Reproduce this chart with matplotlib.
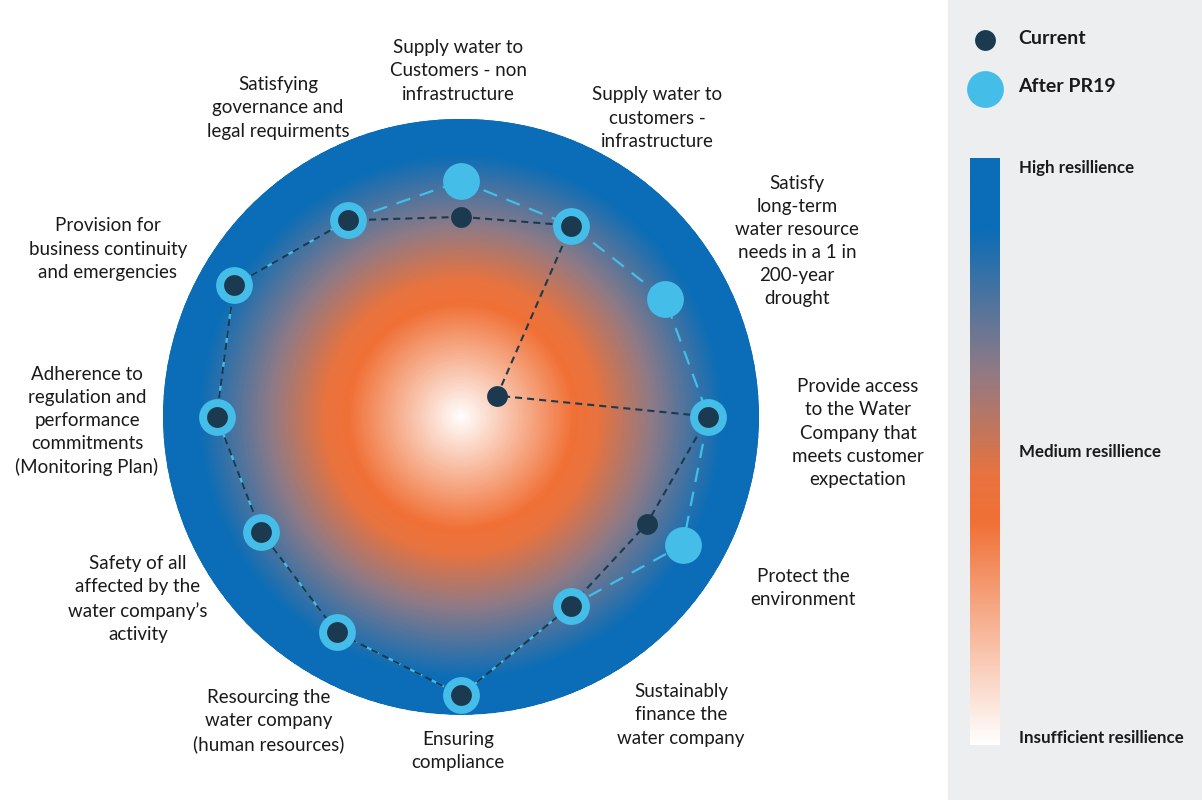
import numpy as np
import matplotlib
matplotlib.use("Agg")
import matplotlib.pyplot as plt
from matplotlib.colors import LinearSegmentedColormap

plt.rcParams['font.family'] = ['Lato', 'DejaVu Sans']

# categories, clockwise from the top
categories = [
    "Supply water to\nCustomers - non\ninfrastructure",
    "Supply water to\ncustomers -\ninfrastructure",
    "Satisfy\nlong-term\nwater resource\nneeds in a 1 in\n200-year\ndrought",
    "Provide access\nto the Water\nCompany that\nmeets customer\nexpectation",
    "Protect the\nenvironment",
    "Sustainably\nfinance the\nwater company",
    "Ensuring\ncompliance",
    "Resourcing the\nwater company\n(human resources)",
    "Safety of all\naffected by the\nwater company\u2019s\nactivity",
    "Adherence to\nregulation and\nperformance\ncommitments\n(Monitoring Plan)",
    "Provision for\nbusiness continuity\nand emergencies",
    "Satisfying\ngovernance and\nlegal requirments",
]

# resilience score 0-10
current = [6.7, 7.4, 1.4, 8.3, 7.2, 7.35, 9.35, 8.35, 7.75, 8.2, 8.8, 7.6]
after_pr19 = [7.9, 7.4, 7.9, 8.3, 8.6, 7.35, 9.35, 8.35, 7.75, 8.2, 8.8, 7.6]

scale_labels = ["High resillience", "Medium resillience", "Insufficient resillience"]

# colours
dark = "#1b3a4f"
light = "#44bde8"
cmap = LinearSegmentedColormap.from_list(
    "res",
    [(0.0, "#ffffff"), (0.38, "#f07036"), (0.46, "#e8733f"), (0.64, "#8f7a86"),
     (0.88, "#0b6db7"), (1.0, "#0b6db7")],
)

W, H = 1202, 800
fig = plt.figure(figsize=(W / 100, H / 100), dpi=100)

# background axes in pixel coords for labels and the side panel
bg = fig.add_axes([0, 0, 1, 1])
bg.set_xlim(0, W)
bg.set_ylim(H, 0)
bg.axis("off")
bg.add_patch(plt.Rectangle((948, 0), W - 948, H, color="#eceef0", zorder=0))

# radar chart
cx, cy, R = 461, 416.5, 298
ax = fig.add_axes([(cx - R) / W, (H - cy - R) / H, 2 * R / W, 2 * R / H], projection="polar")
ax.set_theta_offset(np.pi / 2)
ax.set_theta_direction(-1)
ax.set_ylim(0, 10)

# radial gradient
th = np.linspace(0, 2 * np.pi, 181)
rr = np.linspace(0, 10, 200)
TH, RR = np.meshgrid(th, rr)
ax.pcolormesh(TH, RR, RR / 10, cmap=cmap, vmin=0, vmax=1, shading="gouraud", zorder=0)

n = len(categories)
angles = np.arange(n) * 2 * np.pi / n
ang_c = np.append(angles, angles[0])

l1, = ax.plot(ang_c, after_pr19 + after_pr19[:1], color=light, lw=1.6, zorder=2)
l1.set_dashes((6.5, 4.5))
l2, = ax.plot(ang_c, current + current[:1], color=dark, lw=1.5, zorder=3)
l2.set_dashes((3.4, 2.4))
ax.plot(angles, after_pr19, "o", color=light, ms=26.5, mew=0, zorder=4)
ax.plot(angles, current, "o", color=dark, ms=15, mew=0, zorder=5)

ax.grid(False)
ax.set_xticks([])
ax.set_yticks([])
ax.spines["polar"].set_visible(False)
ax.patch.set_alpha(0)

# category labels
label_pos = [(458, 71), (657, 118), (797, 241), (858, 433), (803, 588), (681, 715),
             (458, 751), (269, 721), (138, 599), (87, 421), (108, 249), (278, 108)]
for txt, (x, y) in zip(categories, label_pos):
    bg.text(x, y, txt, ha="center", va="center", fontsize=13.5, color="#1a1a1a",
            linespacing=1.43, multialignment="center")

# legend
bg.plot(985, 40, "o", color=dark, ms=15, mew=0)
bg.plot(985, 89, "o", color=light, ms=26.5, mew=0)
bg.text(1018, 38, "Current", fontsize=14, fontweight="bold", va="center", color="#1a1a1a")
bg.text(1018, 87, "After PR19", fontsize=14, fontweight="bold", va="center", color="#1a1a1a")

# colour scale
cb = fig.add_axes([970 / W, (H - 745) / H, 30 / W, (745 - 158) / H])
cb.imshow(np.linspace(1, 0, 256)[:, None], cmap=cmap, aspect="auto", vmin=0, vmax=1)
cb.axis("off")
for txt, y in zip(scale_labels, [168, 452, 738]):
    bg.text(1019, y, txt, fontsize=12.2, fontweight="bold", va="center", color="#1a1a1a")

fig.savefig("out.png", dpi=100)
